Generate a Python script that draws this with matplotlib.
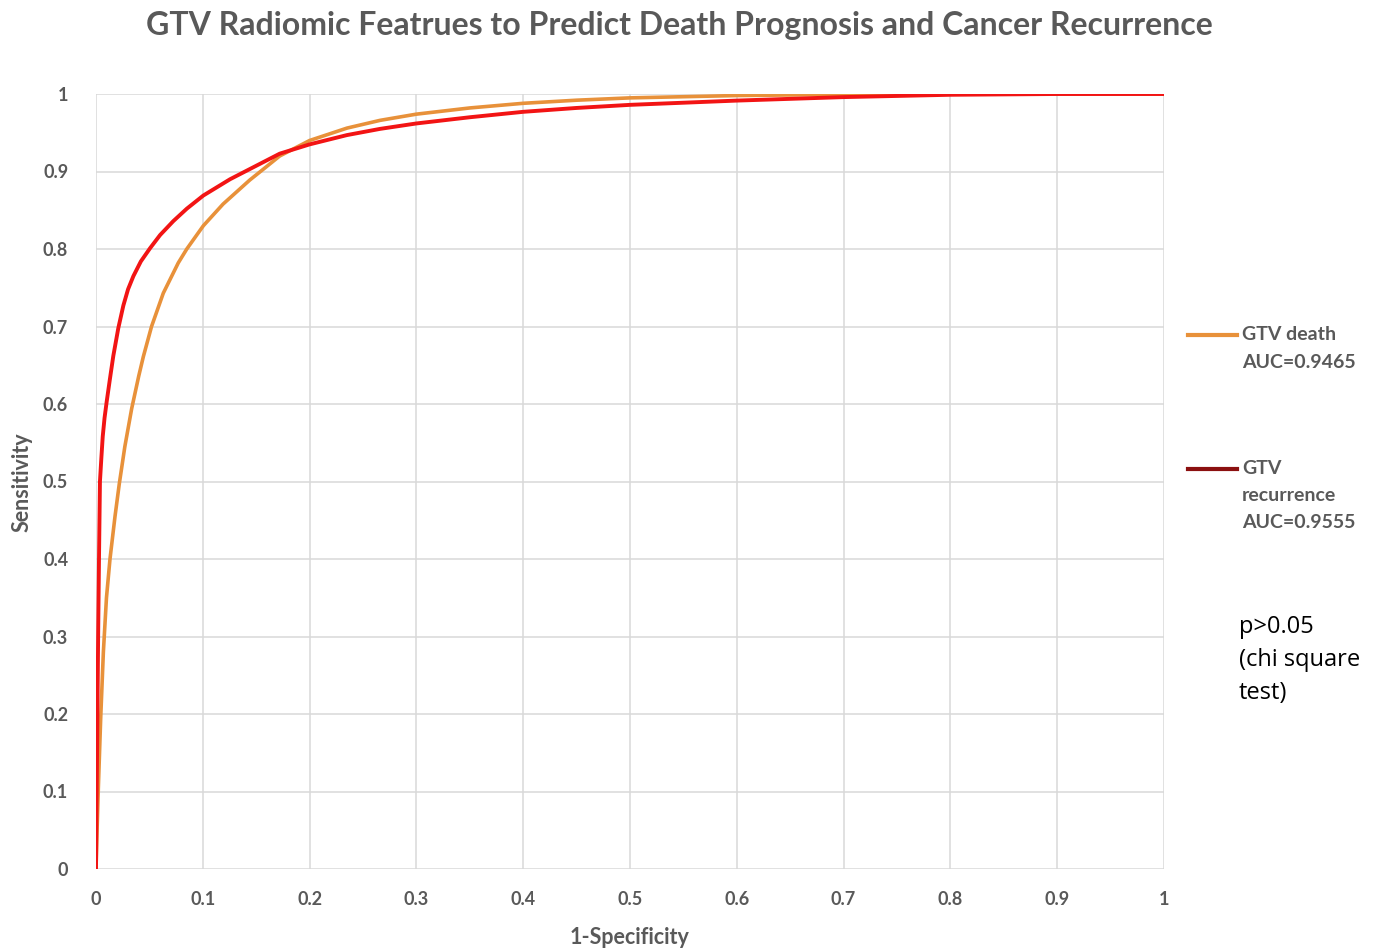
import matplotlib
matplotlib.use("Agg")
import matplotlib.pyplot as plt
from matplotlib.lines import Line2D

# ---- data ----
death_fpr = [0, 0.001, 0.0022, 0.0044, 0.0069, 0.0098, 0.0131, 0.0178, 0.0218, 0.027, 0.0334,
             0.040, 0.0443, 0.052, 0.063, 0.077, 0.085, 0.1005, 0.119, 0.144, 0.1567, 0.172,
             0.2, 0.235, 0.266, 0.3, 0.35, 0.4, 0.45, 0.5, 0.6, 0.7, 0.8, 1.0]
death_tpr = [0, 0.05, 0.105, 0.195, 0.28, 0.35, 0.40, 0.455, 0.497, 0.545, 0.594,
             0.636, 0.661, 0.700, 0.743, 0.782, 0.800, 0.830, 0.858, 0.889, 0.903, 0.920,
             0.940, 0.956, 0.966, 0.974, 0.982, 0.988, 0.992, 0.995, 0.998, 0.9995, 1.0, 1.0]

rec_fpr = [0, 0.001, 0.002, 0.0028, 0.0037, 0.005, 0.0063, 0.008, 0.010, 0.013, 0.0162,
           0.0209, 0.0256, 0.030, 0.035, 0.042, 0.0506, 0.060, 0.0724, 0.085, 0.1005, 0.1255,
           0.141, 0.172, 0.2, 0.235, 0.266, 0.30, 0.35, 0.40, 0.45, 0.50, 0.60, 0.70, 0.80, 0.9, 1.0]
rec_tpr = [0, 0.15, 0.30, 0.40, 0.50, 0.53, 0.558, 0.582, 0.603, 0.632, 0.662,
           0.698, 0.727, 0.748, 0.765, 0.784, 0.801, 0.818, 0.836, 0.852, 0.869, 0.890,
           0.901, 0.923, 0.935, 0.947, 0.955, 0.962, 0.970, 0.977, 0.982, 0.986, 0.9915, 0.996, 0.999, 1.0, 1.0]

ticks = [0, 0.1, 0.2, 0.3, 0.4, 0.5, 0.6, 0.7, 0.8, 0.9, 1]
tick_labels = ["0", "0.1", "0.2", "0.3", "0.4", "0.5", "0.6", "0.7", "0.8", "0.9", "1"]

title = "GTV Radiomic Featrues to Predict Death Prognosis and Cancer Recurrence"
xlabel = "1-Specificity"
ylabel = "Sensitivity"
legend_death = ["GTV death", "AUC=0.9465"]
legend_rec = ["GTV", "recurrence", "AUC=0.9555"]
note = ["p>0.05", "(chi square", "test)"]

# ---- styling ----
plt.rcParams['font.family'] = ['Lato', 'DejaVu Sans']
gray = "#595959"
orange = "#E8913A"
red = "#F21414"
dark_red = "#8B1010"

fig = plt.figure(figsize=(13.76, 9.52), dpi=100)
ax = fig.add_axes([96/1376, 1-869/952, (1164-96)/1376, (869-94)/952])

ax.plot(death_fpr, death_tpr, color=orange, lw=2.6, solid_capstyle='round',
        solid_joinstyle='round', zorder=3)
ax.plot(rec_fpr, rec_tpr, color=red, lw=2.8, solid_capstyle='round',
        solid_joinstyle='round', zorder=4)

ax.set_xlim(0, 1)
ax.set_ylim(0, 1)
ax.set_xticks(ticks)
ax.set_xticklabels(tick_labels)
ax.set_yticks(ticks)
ax.set_yticklabels(tick_labels)
ax.grid(True, color="#D9D9D9", lw=1.1)
ax.set_axisbelow(True)
for s in ax.spines.values():
    s.set_visible(False)
ax.tick_params(axis='x', length=0, labelsize=13, labelcolor=gray, pad=16)
ax.tick_params(axis='y', length=0, labelsize=13, labelcolor=gray, pad=20)
for lab in ax.get_xticklabels() + ax.get_yticklabels():
    lab.set_fontweight('bold')

fig.text(0.494, 0.973, title, ha='center', va='center', fontsize=23, fontweight='bold', color=gray)
fig.text(630/1376, 1-937/952, xlabel, ha='center', va='center', fontsize=15.5, fontweight='bold', color=gray)
fig.text(22/1376, 1-482/952, ylabel, ha='center', va='center', fontsize=15.5, fontweight='bold',
         color=gray, rotation=90)

# legend
def fx(px):
    return px/1376
def fy(py):
    return 1-py/952

fig.add_artist(Line2D([fx(1188), fx(1237)], [fy(335), fy(335)], color=orange, lw=3))
for i, t in enumerate(legend_death):
    fig.text(fx(1242), fy(334 + 28*i), t, ha='left', va='center', fontsize=14, fontweight='bold', color=gray)
fig.add_artist(Line2D([fx(1188), fx(1237)], [fy(469), fy(469)], color=dark_red, lw=3))
for i, t in enumerate(legend_rec):
    fig.text(fx(1242), fy(468 + 27.5*i), t, ha='left', va='center', fontsize=14, fontweight='bold', color=gray)

for i, t in enumerate(note):
    fig.text(fx(1239), fy(627 + 33*i), t, ha='left', va='center', fontsize=17, color='black',
             family=['Open Sans', 'DejaVu Sans'])

fig.savefig("out.png", dpi=100, facecolor='white')
